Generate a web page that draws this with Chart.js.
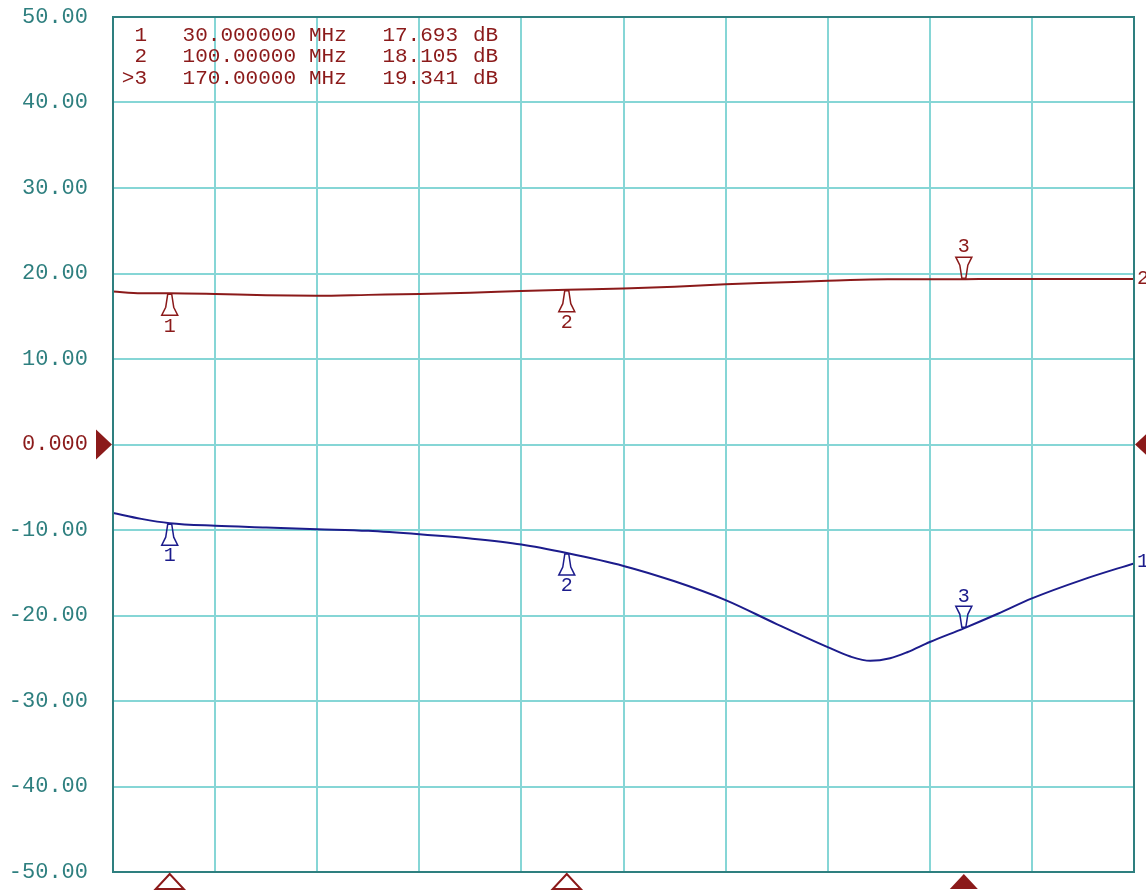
<!DOCTYPE html>
<html lang="en">
<head>
<meta charset="UTF-8">
<title>Network Analyzer Trace</title>
<script src="https://cdn.jsdelivr.net/npm/chart.js"></script>
<style>
  html, body { margin: 0; padding: 0; background: #fff; }
  canvas { display: block; }
</style>
</head>
<body>
<canvas id="trace" width="1146" height="890"></canvas>
<script>
// sweep points (MHz)
const freqs = [20, 25, 30, 38, 47, 56, 65, 74, 83, 92, 100, 110, 119, 128, 137, 146, 150, 153.5, 157, 160, 164, 170, 176, 182, 191, 200];
// trace 2 (red) in dB
const redValues = [17.9, 17.7, 17.69, 17.6, 17.45, 17.4, 17.5, 17.6, 17.75, 17.95, 18.1, 18.25, 18.45, 18.75, 18.95, 19.15, 19.25, 19.3, 19.32, 19.33, 19.34, 19.34, 19.35, 19.35, 19.35, 19.35];
// trace 1 (blue) in dB
const blueValues = [-8.0, -8.7, -9.2, -9.5, -9.7, -9.9, -10.1, -10.5, -11.0, -11.7, -12.7, -14.2, -16.0, -18.2, -21.0, -23.7, -24.8, -25.3, -25.0, -24.3, -23.1, -21.5, -19.8, -18.0, -15.8, -13.9];

// markers
const markerNames = ['1', '2', '>3'];
const markerFreqs = [30, 100, 170];
const redMarkerVals = [17.693, 18.105, 19.341];
const blueMarkerVals = [-9.2, -12.7, -21.5];
const activeMarker = 2;

const xMin = 20, xMax = 200, xStep = 18;
const yMin = -50, yMax = 50, yStep = 10;
const refLevel = 0;

const RED = '#8b1a1a';
const BLUE = '#1c1c8c';
const TEAL = '#2e7f7f';
const GRID = '#86d6d6';
const FONT = 'Liberation Mono';

function toPts(vals) {
    return freqs.map((f, i) => ({ x: f, y: vals[i] }));
}

function markerShape(ctx, x, y, up) {
    // up: marker sits under the trace and points up at it
    const s = up ? 1 : -1;
    ctx.beginPath();
    ctx.moveTo(x - 2, y + s * 1);
    ctx.lineTo(x - 4, y + s * 14);
    ctx.lineTo(x - 8, y + s * 22);
    ctx.lineTo(x + 8, y + s * 22);
    ctx.lineTo(x + 4, y + s * 14);
    ctx.lineTo(x + 2, y + s * 1);
    ctx.closePath();
    ctx.stroke();
}

const overlay = {
    id: 'overlay',
    afterDatasetsDraw(chart) {
        const { ctx, chartArea: a, scales } = chart;
        const xs = scales.x, ys = scales.y;
        ctx.save();

        // frame
        ctx.strokeStyle = TEAL;
        ctx.lineWidth = 2;
        ctx.strokeRect(a.left, a.top, a.right - a.left, a.bottom - a.top);

        // trace markers
        ctx.lineWidth = 1.5;
        ctx.font = '20px ' + FONT;
        ctx.textAlign = 'center';
        ctx.textBaseline = 'middle';
        [[redMarkerVals, RED], [blueMarkerVals, BLUE]].forEach(([vals, col]) => {
            ctx.strokeStyle = col;
            ctx.fillStyle = col;
            markerFreqs.forEach((f, i) => {
                const px = xs.getPixelForValue(f);
                const py = ys.getPixelForValue(vals[i]);
                const up = i !== activeMarker;
                markerShape(ctx, px, py, up);
                ctx.fillText(String(i + 1), px, py + (up ? 33 : -32));
            });
        });

        // stimulus markers under the grid
        ctx.strokeStyle = RED;
        ctx.fillStyle = RED;
        ctx.lineWidth = 2;
        markerFreqs.forEach((f, i) => {
            const px = xs.getPixelForValue(f);
            ctx.beginPath();
            ctx.moveTo(px, a.bottom + 2);
            ctx.lineTo(px - 14, a.bottom + 17);
            ctx.lineTo(px + 14, a.bottom + 17);
            ctx.closePath();
            if (i === activeMarker) ctx.fill(); else ctx.stroke();
        });

        // reference level pointers
        const ry = ys.getPixelForValue(refLevel);
        ctx.beginPath();
        ctx.moveTo(a.left - 1, ry);
        ctx.lineTo(a.left - 17, ry - 15);
        ctx.lineTo(a.left - 17, ry + 15);
        ctx.closePath();
        ctx.fill();
        ctx.beginPath();
        ctx.moveTo(a.right + 1, ry);
        ctx.lineTo(a.right + 17, ry - 15);
        ctx.lineTo(a.right + 17, ry + 15);
        ctx.closePath();
        ctx.fill();

        // trace numbers at the right edge
        ctx.textAlign = 'left';
        ctx.fillStyle = RED;
        ctx.fillText('2', a.right + 3, ys.getPixelForValue(redValues[redValues.length - 1]));
        ctx.fillStyle = BLUE;
        ctx.fillText('1', a.right + 3, ys.getPixelForValue(blueValues[blueValues.length - 1]) - 2);

        // marker readout
        ctx.font = '21px ' + FONT;
        ctx.fillStyle = RED;
        markerNames.forEach((name, i) => {
            const ty = a.top + 18 + i * 21.5;
            ctx.textAlign = 'right';
            ctx.fillText(name, 147, ty);
            ctx.fillText(markerFreqs[i].toPrecision(8), 296, ty);
            ctx.fillText(redMarkerVals[i].toFixed(3), 458, ty);
            ctx.textAlign = 'left';
            ctx.fillText('MHz', 309, ty);
            ctx.fillText('dB', 473, ty);
        });

        ctx.restore();
    }
};

new Chart(document.getElementById('trace'), {
    type: 'line',
    data: {
        datasets: [
            {
                label: 'Trace 2',
                data: toPts(redValues),
                borderColor: RED,
                borderWidth: 2,
                pointRadius: 0,
                cubicInterpolationMode: 'monotone'
            },
            {
                label: 'Trace 1',
                data: toPts(blueValues),
                borderColor: BLUE,
                borderWidth: 2,
                pointRadius: 0,
                cubicInterpolationMode: 'monotone'
            }
        ]
    },
    options: {
        responsive: false,
        animation: false,
        layout: { padding: { top: 17, right: 12, left: 0, bottom: 0 } },
        plugins: {
            legend: { display: false },
            tooltip: { enabled: false }
        },
        scales: {
            x: {
                type: 'linear',
                min: xMin,
                max: xMax,
                afterFit: s => { s.height = 18; s.paddingLeft = 0; s.paddingRight = 0; },
                ticks: { display: false, stepSize: xStep },
                grid: { color: GRID, lineWidth: 2, drawTicks: false },
                border: { display: false }
            },
            y: {
                min: yMin,
                max: yMax,
                afterFit: s => { s.width = 113; s.paddingTop = 0; s.paddingBottom = 0; },
                ticks: {
                    stepSize: yStep,
                    padding: 25,
                    font: { family: FONT, size: 22 },
                    color: c => c.tick.value === refLevel ? RED : TEAL,
                    callback: v => v === 0 ? '0.000' : v.toFixed(2)
                },
                grid: { color: GRID, lineWidth: 2, drawTicks: false },
                border: { display: false }
            }
        }
    },
    plugins: [overlay]
});
</script>
</body>
</html>
